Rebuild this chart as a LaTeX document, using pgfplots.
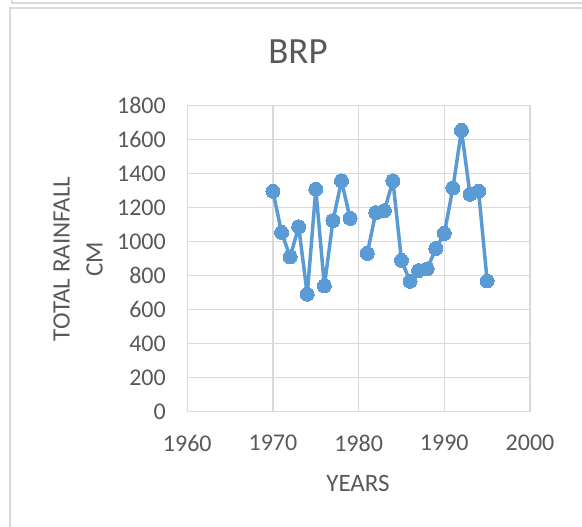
\documentclass[border=0pt]{standalone}
\usepackage{pgfplots}
\pgfplotsset{compat=1.18}
\usepackage{fontspec}
\setmainfont{Carlito}
\definecolor{ser}{HTML}{5B9BD5}
\definecolor{grd}{HTML}{D9D9D9}
\definecolor{txt}{HTML}{595959}
\begin{document}
\begin{tikzpicture}
\path[use as bounding box] (0pt,0pt) rectangle (582pt,-527pt);
% chart frames
\draw[grd, line width=1.5pt] (12pt,0pt) -- (12pt,-3pt) -- (582pt,-3pt);
\draw[grd, line width=1.5pt] (10pt,-527pt) -- (10pt,-8pt) -- (582pt,-8pt);
\begin{axis}[
  at={(187.3pt,-411.7pt)}, anchor=south west,
  scale only axis, width=342.7pt, height=306pt,
  xmin=1960, xmax=2000, ymin=0, ymax=1800,
  xtick={1960,1970,1980,1990,2000},
  ytick={0,200,400,600,800,1000,1200,1400,1600,1800},
  major tick length=0pt,
  grid=major,
  major grid style={grd, line width=1.2pt},
  axis line style={grd, line width=1.2pt},
  /pgf/number format/assume math mode=true,
  /pgf/number format/1000 sep={},
  tick label style={font=\fontsize{24}{28}\selectfont, text=txt},
  yticklabel style={xshift=-18pt},
  xticklabel style={yshift=-20pt},
  unbounded coords=jump,
  clip=false,
]
\addplot[color=ser, line width=3.5pt, line join=round, line cap=round, mark=*, mark size=7pt, mark options={fill=ser, draw=ser, line width=0pt}]
coordinates {
(1970,1296) (1971,1055) (1972,911) (1973,1088) (1974,691) (1975,1309)
(1976,740) (1977,1124) (1978,1358) (1979,1137) (1980,nan)
(1981,931) (1982,1171) (1983,1183) (1984,1358) (1985,890) (1986,767)
(1987,830) (1988,840) (1989,960) (1990,1049) (1991,1316) (1992,1655)
(1993,1279) (1994,1297) (1995,769)
};
\end{axis}
\node[text=txt, font=\fontsize{37}{42}\selectfont] at (298pt,-52pt) {BRP};
\node[text=txt, font=\fontsize{25}{33}\selectfont, rotate=90, align=center] at (78pt,-259pt) {TOTAL RAINFALL\\CM};
\node[text=txt, font=\fontsize{25}{30}\selectfont] at (358pt,-483pt) {YEARS};
\end{tikzpicture}
\end{document}
